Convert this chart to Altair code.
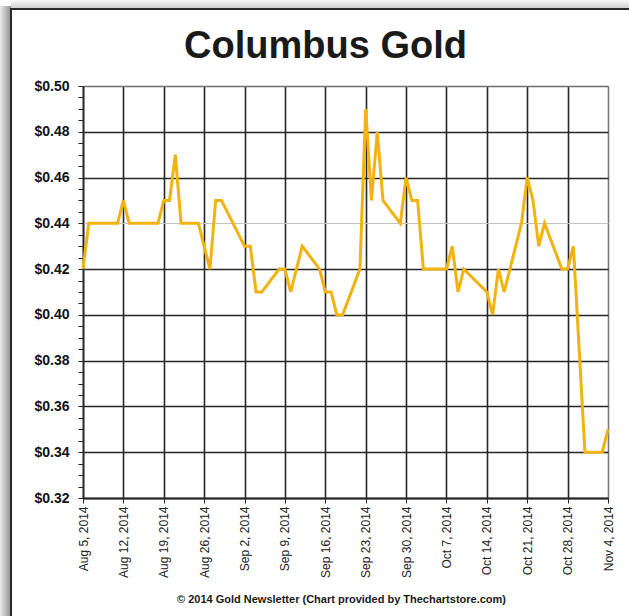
import altair as alt
import pandas as pd

# ---- data ----
dates = [
    "2014-08-05", "2014-08-06", "2014-08-07", "2014-08-08", "2014-08-11",
    "2014-08-12", "2014-08-13", "2014-08-14", "2014-08-15", "2014-08-18",
    "2014-08-19", "2014-08-20", "2014-08-21", "2014-08-22", "2014-08-25",
    "2014-08-27", "2014-08-28", "2014-08-29", "2014-09-02", "2014-09-03",
    "2014-09-04", "2014-09-05", "2014-09-08", "2014-09-09", "2014-09-10",
    "2014-09-12", "2014-09-15", "2014-09-16", "2014-09-17", "2014-09-18",
    "2014-09-19", "2014-09-22", "2014-09-23", "2014-09-24", "2014-09-25",
    "2014-09-26", "2014-09-29", "2014-09-30", "2014-10-01", "2014-10-02",
    "2014-10-03", "2014-10-06", "2014-10-07", "2014-10-08", "2014-10-09",
    "2014-10-10", "2014-10-14", "2014-10-15", "2014-10-16", "2014-10-17",
    "2014-10-20", "2014-10-21", "2014-10-22", "2014-10-23", "2014-10-24",
    "2014-10-27", "2014-10-28", "2014-10-29", "2014-10-31", "2014-11-03",
    "2014-11-04",
]
prices = [
    0.42, 0.44, 0.44, 0.44, 0.44,
    0.45, 0.44, 0.44, 0.44, 0.44,
    0.45, 0.45, 0.47, 0.44, 0.44,
    0.42, 0.45, 0.45, 0.43, 0.43,
    0.41, 0.41, 0.42, 0.42, 0.41,
    0.43, 0.42, 0.41, 0.41, 0.40,
    0.40, 0.42, 0.49, 0.45, 0.48,
    0.45, 0.44, 0.46, 0.45, 0.45,
    0.42, 0.42, 0.42, 0.43, 0.41,
    0.42, 0.41, 0.40, 0.42, 0.41,
    0.44, 0.46, 0.45, 0.43, 0.44,
    0.42, 0.42, 0.43, 0.34, 0.34,
    0.35,
]
week_ticks = [
    "2014-08-05", "2014-08-12", "2014-08-19", "2014-08-26", "2014-09-02",
    "2014-09-09", "2014-09-16", "2014-09-23", "2014-09-30", "2014-10-07",
    "2014-10-14", "2014-10-21", "2014-10-28", "2014-11-04",
]
price_ticks = [
    0.32, 0.325, 0.33, 0.335, 0.34, 0.345, 0.35, 0.355, 0.36, 0.365,
    0.37, 0.375, 0.38, 0.385, 0.39, 0.395, 0.40, 0.405, 0.41, 0.415,
    0.42, 0.425, 0.43, 0.435, 0.44, 0.445, 0.45, 0.455, 0.46, 0.465,
    0.47, 0.475, 0.48, 0.485, 0.49, 0.495, 0.50,
]
title_text = "Columbus Gold"
footer_text = "\u00a9 2014 Gold Newsletter (Chart provided by Thechartstore.com)"

df = pd.DataFrame({"date": dates, "price": prices})


def to_ms(s):
    return int(pd.Timestamp(s, tz="UTC").value // 10**6)


week_ms = [to_ms(s) for s in week_ticks]
t0, t1 = week_ms[0], week_ms[-1]

DARK = "#262626"

x_axis = alt.Axis(
    values=week_ms,
    labelExpr="utcFormat(datum.value, '%b %-d, %Y')",
    labelAngle=-90,
    labelFont="Liberation Sans",
    labelFontSize=12,
    labelColor="#222222",
    labelPadding=3,
    labelOverlap=False,
    tickSize=5,
    tickColor=DARK,
    tickWidth=1,
    domainColor=DARK,
    domainWidth=2,
    grid=True,
    gridColor={
        "condition": {"test": f"datum.value >= {t1}", "value": "#7a7a7a"},
        "value": DARK,
    },
    gridWidth=1.6,
    gridOpacity=1,
    title=footer_text,
    titleFont="Liberation Sans Narrow, Liberation Sans",
    titleFontSize=11,
    titleFontWeight="bold",
    titleColor="#1a1a1a",
    titleX=258,
    titleY=101,
    titleAlign="center",
    titleBaseline="middle",
    titleAnchor="middle",
)

y_axis = alt.Axis(
    values=price_ticks,
    labelExpr="abs(datum.value*50 - round(datum.value*50)) < 0.001 ? '$' + format(datum.value, '.2f') : ''",
    labelFont="Liberation Sans",
    labelFontSize=14,
    labelFontWeight="bold",
    labelColor="#111111",
    labelPadding=9,
    labelOverlap=False,
    tickSize=5,
    tickColor=DARK,
    tickWidth=1,
    domainColor=DARK,
    domainWidth=1.6,
    grid=True,
    gridColor={
        "condition": [
            {"test": "abs(datum.value - 0.44) < 0.001", "value": "#c4c4c4"},
            {"test": "abs(datum.value - 0.50) < 0.001", "value": "#6e6e6e"},
        ],
        "value": DARK,
    },
    gridWidth={
        "condition": {"test": "abs(datum.value - 0.44) < 0.001", "value": 1},
        "value": 1.6,
    },
    gridOpacity={
        "condition": {"test": "abs(datum.value*50 - round(datum.value*50)) > 0.001", "value": 0},
        "value": 1,
    },
    title=None,
)

line = alt.Chart(df).mark_line(color="#F2B20F", strokeWidth=3).encode(
    x=alt.X("date:T", scale=alt.Scale(type="utc", domain=[t0, t1]), axis=x_axis),
    y=alt.Y("price:Q", scale=alt.Scale(domain=[0.32, 0.50], zero=False, nice=False), axis=y_axis),
)

one = alt.Data(values=[{"k": 1}])

shadow_left = alt.Chart(one).mark_rect(
    fill=alt.LinearGradient(
        gradient="linear",
        stops=[alt.GradientStop(color="#ececec", offset=0),
               alt.GradientStop(color="#8e8e8e", offset=1)],
        x1=0, x2=1, y1=0, y2=0,
    )
).encode(x=alt.value(-83), x2=alt.value(-72), y=alt.value(-80), y2=alt.value(540))

shadow_top = alt.Chart(one).mark_rect(
    fill=alt.LinearGradient(
        gradient="linear",
        stops=[alt.GradientStop(color="#fafafa", offset=0),
               alt.GradientStop(color="#cccccc", offset=1)],
        x1=0, x2=0, y1=0, y2=1,
    )
).encode(x=alt.value(-72), x2=alt.value(560), y=alt.value(-86), y2=alt.value(-77))

frame = alt.Chart(one).mark_rect(
    fillOpacity=0, stroke="#2b2b2b", strokeWidth=2
).encode(x=alt.value(-72), x2=alt.value(600), y=alt.value(-77), y2=alt.value(600))

chart = alt.layer(shadow_left, shadow_top, frame, line).properties(
    width=525,
    height=412,
    padding={"left": 83, "top": 86, "right": 21, "bottom": 118},
    autosize=alt.AutoSizeParams(type="none"),
    title=alt.TitleParams(
        text=title_text,
        font="Liberation Sans",
        fontSize=38,
        fontWeight="bold",
        color="#1a1a1a",
        anchor="middle",
        baseline="alphabetic",
        dx=-20,
        dy=96,
        offset=0,
    ),
).configure_view(strokeWidth=0).configure(background="white")

chart.save("out.html", embed_options={"renderer": "svg", "actions": False})
